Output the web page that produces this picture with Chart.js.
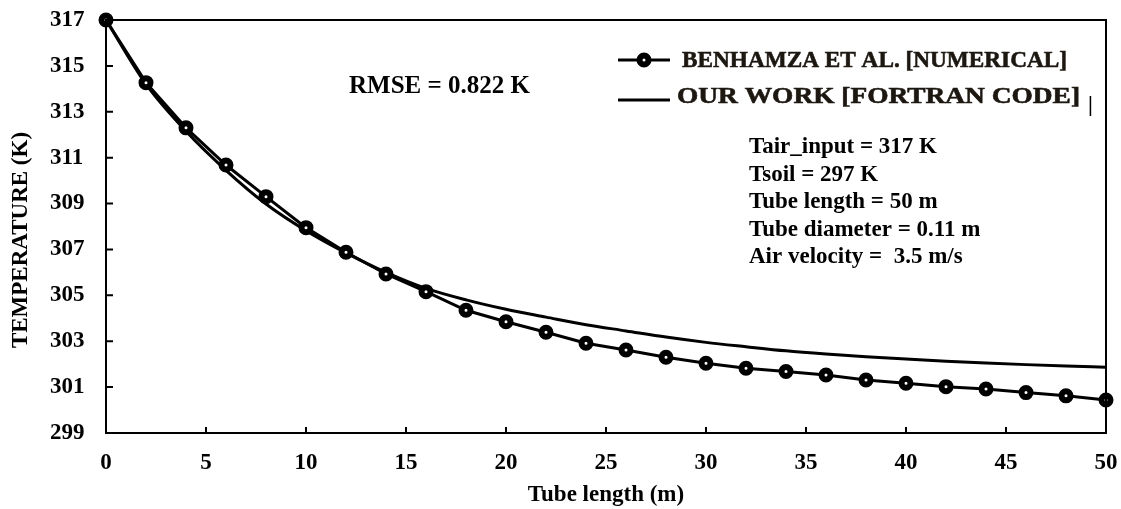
<!DOCTYPE html>
<html>
<head>
<meta charset="utf-8">
<script src="https://cdn.jsdelivr.net/npm/chart.js@4.4.1/dist/chart.umd.min.js"></script>
<style>
  html, body { margin: 0; padding: 0; background: #fff; }
  #wrap { width: 1121px; height: 509px; }
</style>
</head>
<body>
<div id="wrap"><canvas id="chart" width="1121" height="509"></canvas></div>
<script>
// tube length positions (m)
const tubeLength = [0, 2, 4, 6, 8, 10, 12, 14, 16, 18, 20, 22, 24, 26, 28, 30, 32, 34, 36, 38, 40, 42, 44, 46, 48, 50]
// outlet temperatures (K)
const benhamza = [317.0, 314.27, 312.3, 310.68, 309.3, 307.95, 306.88, 305.93, 305.16, 304.35, 303.85, 303.39, 302.91,
	302.62, 302.3, 302.04, 301.82, 301.68, 301.53, 301.31, 301.17, 301.02, 300.92, 300.76, 300.62, 300.44]
const fortran = [317.0, 314.2, 312.15, 310.45, 308.98, 307.82, 306.85, 306.0, 305.3, 304.8, 304.39, 304.05, 303.72,
	303.45, 303.18, 302.95, 302.76, 302.58, 302.44, 302.32, 302.22, 302.13, 302.05, 301.98, 301.92, 301.87]

const seriesNames = ['BENHAMZA ET AL. [NUMERICAL]', 'OUR WORK [FORTRAN CODE]']
const xTitle = 'Tube length (m)'
const yTitle = 'TEMPERATURE (K)'
const rmseLabel = 'RMSE = 0.822 K'
const notes = ['Tair_input = 317 K', 'Tsoil = 297 K', 'Tube length = 50 m', 'Tube diameter = 0.11 m', 'Air velocity =  3.5 m/s']

const SERIF = "'Liberation Serif', 'Times New Roman', serif"

const toPoints = (ys) => tubeLength.map((x, i) => ({ x, y: ys[i] }))

// frame, inward ticks, annotations, legend
const decorations = {
	id: 'decorations',
	afterDraw(chart) {
		const { ctx, chartArea: area, scales } = chart
		ctx.save()
		ctx.strokeStyle = '#000'
		ctx.lineWidth = 2
		ctx.strokeRect(area.left, area.top, area.right - area.left, area.bottom - area.top)

		// tick marks point into the plot
		ctx.beginPath()
		scales.y.ticks.forEach(t => {
			const y = scales.y.getPixelForValue(t.value)
			ctx.moveTo(area.left, y)
			ctx.lineTo(area.left + 7, y)
		})
		scales.x.ticks.forEach(t => {
			const x = scales.x.getPixelForValue(t.value)
			ctx.moveTo(x, area.bottom)
			ctx.lineTo(x, area.bottom - 6)
		})
		ctx.stroke()

		// y title
		ctx.fillStyle = '#000'
		ctx.font = `bold 23px ${SERIF}`
		ctx.textAlign = 'center'
		ctx.textBaseline = 'middle'
		ctx.save()
		ctx.translate(21, 240)
		ctx.rotate(-Math.PI / 2)
		ctx.fillText(yTitle, 0, 0)
		ctx.restore()

		// RMSE
		ctx.textAlign = 'left'
		ctx.textBaseline = 'alphabetic'
		ctx.font = `bold 25px ${SERIF}`
		ctx.fillText(rmseLabel, 349, 93)

		// case parameters
		ctx.font = `bold 23px ${SERIF}`
		notes.forEach((s, i) => ctx.fillText(s, 749, 153 + i * 27.5))

		// legend
		const rows = [
			{ y: 60, textX: 682, textY: 61, width: 385, marker: true },
			{ y: 100, textX: 677, textY: 97, width: 403, marker: false }
		]
		rows.forEach((r, i) => {
			ctx.strokeStyle = '#000'
			ctx.lineWidth = 3
			ctx.beginPath()
			ctx.moveTo(618, r.y)
			ctx.lineTo(670, r.y)
			ctx.stroke()
			if (r.marker) {
				ctx.beginPath()
				ctx.arc(644, r.y, 4.5, 0, Math.PI * 2)
				ctx.fillStyle = '#fff'
				ctx.fill()
				ctx.lineWidth = 6
				ctx.stroke()
			}
			// the source font is heavier than Times bold, so add a thin outline
			ctx.fillStyle = '#1c1710'
			ctx.strokeStyle = '#1c1710'
			ctx.font = `bold 24px ${SERIF}`
			ctx.textBaseline = 'middle'
			const w = ctx.measureText(seriesNames[i]).width
			ctx.save()
			ctx.translate(r.textX, r.textY)
			ctx.scale(r.width / w, 1)
			ctx.lineWidth = 0.6
			ctx.fillText(seriesNames[i], 0, 0)
			ctx.strokeText(seriesNames[i], 0, 0)
			ctx.restore()
		})
		ctx.fillStyle = '#000'
		ctx.font = `bold 22px ${SERIF}`
		ctx.fillText('|', 1088, 105)
		ctx.restore()
	}
}

new Chart(document.getElementById('chart'), {
	type: 'line',
	data: {
		datasets: [
			{
				label: seriesNames[0],
				data: toPoints(benhamza),
				borderColor: '#000',
				borderWidth: 3,
				pointRadius: 4.5,
				pointBorderWidth: 6,
				pointBackgroundColor: '#fff',
				pointBorderColor: '#000',
				tension: 0,
				clip: false
			},
			{
				label: seriesNames[1],
				data: toPoints(fortran),
				borderColor: '#000',
				borderWidth: 3,
				pointRadius: 0,
				cubicInterpolationMode: 'monotone',
				clip: false
			}
		]
	},
	options: {
		responsive: false,
		animation: false,
		// tick padding would push the plot box inwards, so labels are placed
		// with padding 0 and moved by the axis box / line height instead
		layout: { padding: { left: 50, right: 15, top: 20, bottom: 0 } },
		plugins: {
			legend: { display: false },
			tooltip: { enabled: false }
		},
		scales: {
			x: {
				type: 'linear',
				min: 0,
				max: 50,
				afterFit: (s) => { s.height = 76 },
				grid: { display: true, drawOnChartArea: false, drawTicks: false },
				border: { display: false },
				ticks: {
					stepSize: 5,
					color: '#000',
					font: { family: SERIF, size: 23, weight: 'bold', lineHeight: 2.6 },
					padding: 0,
					maxRotation: 0
				},
				title: {
					display: true,
					text: xTitle,
					color: '#000',
					font: { family: SERIF, size: 23, weight: 'bold' },
					padding: { top: 0, bottom: 0 }
				}
			},
			y: {
				min: 299,
				max: 317,
				afterFit: (s) => { s.width = 56 },
				grid: { display: true, drawOnChartArea: false, drawTicks: false },
				border: { display: false },
				ticks: {
					stepSize: 2,
					color: '#000',
					font: { family: SERIF, size: 23, weight: 'bold' },
					padding: 0,
					crossAlign: 'far'
				}
			}
		}
	},
	plugins: [decorations]
})
</script>
</body>
</html>
